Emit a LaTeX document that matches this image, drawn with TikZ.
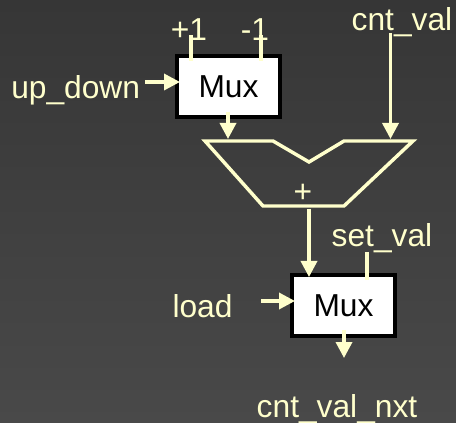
\documentclass[tikz,border=0pt]{standalone}
\usepackage{fontspec}
\setmainfont{Liberation Sans}
\usetikzlibrary{arrows.meta}
\definecolor{cream}{HTML}{FFFFCC}
\definecolor{bgtop}{HTML}{363636}
\definecolor{bgbot}{HTML}{494949}
\tikzset{
  wire/.style={draw=cream,line width=2.6pt},
  arrowwire/.style={wire,-{Triangle[length=12pt,width=12pt]}},
  label/.style={text=cream,font=\fontsize{23.8pt}{26pt}\selectfont,anchor=base,inner sep=0pt},
  muxbox/.style={draw=black,fill=white,line width=3pt,minimum width=77.5pt,minimum height=46pt,inner sep=0pt,text=black,font=\fontsize{23.8pt}{26pt}\selectfont,text height=17.25pt,text depth=0pt}
}
\begin{document}
\begin{tikzpicture}[x=0.75pt,y=-0.75pt]
\useasboundingbox (0,0) rectangle (456,423);
\shade[top color=bgtop,bottom color=bgbot] (0,0) rectangle (456,423);
% boxes
\node[muxbox] (m1) at (228.5,86.5) {Mux};
\node[muxbox] (m2) at (343.5,305.5) {Mux};
% adder
\coordinate (aTL) at (205,141);
\coordinate (aOut) at (309,206);
\draw[wire,line join=miter] (aTL) -- (273,141) -- (309,162) -- (344,141) -- (413,141) -- (344,206) -- (263,206) -- cycle;
% labels
\node[label] (plus1) at (189,41) {+1};
\node[label] (minus1) at (255,41) {-1};
\node[label,anchor=base west] (updown) at (11,99) {up\_down};
\node[label] (cntval) at (402,31) {cnt\_val};
\node[label] (plus) at (303,203) {+};
\node[label] (setval) at (382,247) {set\_val};
\node[label] (load) at (202.5,318) {load};
\node[label] (cntnxt) at (337,417) {cnt\_val\_nxt};
% connector end points
\coordinate (p1a) at (191,35); \coordinate (p1b) at (191,61);
\coordinate (m1a) at (261,35); \coordinate (m1b) at (261,61);
\coordinate (udA) at (145,82); \coordinate (udB) at (180,82);
\coordinate (m1o) at (228,112); \coordinate (aIn1) at (228,139);
\coordinate (cvA) at (390.5,33); \coordinate (aIn2) at (390.5,139);
\coordinate (aO) at (309,209); \coordinate (m2i) at (309,277);
\coordinate (svA) at (367,252); \coordinate (svB) at (367,280);
\coordinate (ldA) at (261,301); \coordinate (ldB) at (295,301);
\coordinate (m2o) at (344,330); \coordinate (nxt) at (344,358);
% connectors
\draw[wire] (p1a) -- (p1b);
\draw[wire] (m1a) -- (m1b);
\draw[arrowwire] (udA) -- (udB);
\draw[arrowwire] (m1o) -- (aIn1);
\draw[arrowwire] (cvA) -- (aIn2);
\draw[arrowwire] (aO) -- (m2i);
\draw[wire] (svA) -- (svB);
\draw[arrowwire] (ldA) -- (ldB);
\draw[arrowwire] (m2o) -- (nxt);
\end{tikzpicture}
\end{document}
